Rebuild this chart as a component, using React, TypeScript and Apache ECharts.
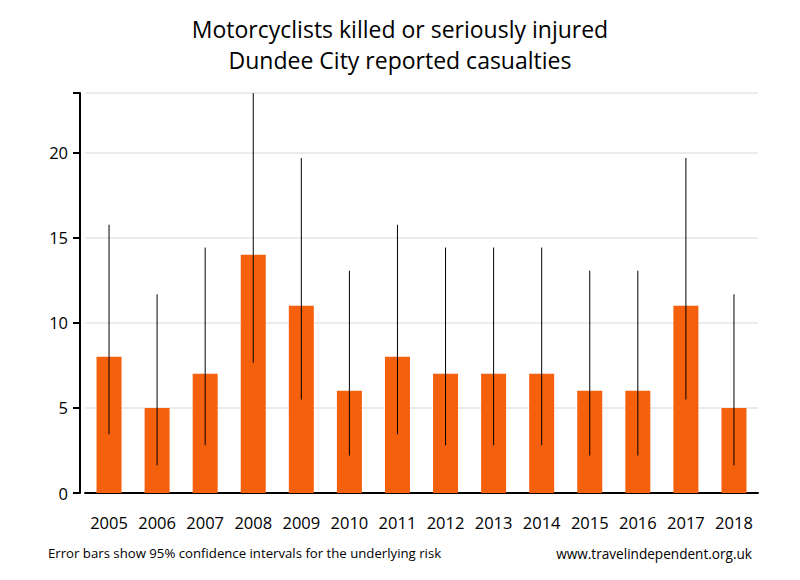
import React, { useEffect, useRef } from "react";
import * as echarts from "echarts";

const years = ["2005", "2006", "2007", "2008", "2009", "2010", "2011", "2012", "2013", "2014", "2015", "2016", "2017", "2018"];
const casualties = [8, 5, 7, 14, 11, 6, 8, 7, 7, 7, 6, 6, 11, 5];
const lowerCI = [3.45, 1.62, 2.81, 7.65, 5.49, 2.2, 3.45, 2.81, 2.81, 2.81, 2.2, 2.2, 5.49, 1.62];
const upperCI = [15.76, 11.67, 14.42, 23.49, 19.68, 13.06, 15.76, 14.42, 14.42, 14.42, 13.06, 13.06, 19.68, 11.67];
const yTicks = [0, 5, 10, 15, 20];

const FONT = "'Open Sans', 'Noto Sans', sans-serif";

export default function App() {
  const ref = useRef<HTMLDivElement>(null);
  useEffect(() => {
    if (!ref.current) return;
    const chart = echarts.init(ref.current, undefined, { renderer: "svg" });
    const errData = years.map((_, i) => [i, lowerCI[i], upperCI[i]]);
    chart.setOption({
      animation: false,
      backgroundColor: "#ffffff",
      title: {
        text: "Motorcyclists killed or seriously injured\nDundee City reported casualties",
        left: "center",
        top: 8,
        textStyle: { fontFamily: FONT, fontSize: 23, fontWeight: "normal", color: "#000", lineHeight: 31 },
      },
      graphic: [
        { type: "text", left: 48, top: 546, style: { text: "Error bars show 95% confidence intervals for the underlying risk", fontFamily: FONT, fontSize: 13.2, fill: "#000" } },
        { type: "text", right: 48, top: 546, style: { text: "www.travelindependent.org.uk", fontFamily: FONT, fontSize: 13.6, fill: "#000" } },
      ],
      grid: { left: 85, right: 42, top: 93, bottom: 87, containLabel: false },
      xAxis: {
        type: "category",
        data: years,
        axisLine: { show: true, lineStyle: { color: "#000", width: 2 } },
        axisTick: { show: false },
        axisLabel: { fontFamily: FONT, fontSize: 16.5, color: "#000", margin: 21, interval: 0, hideOverlap: false },
      },
      yAxis: {
        type: "value",
        min: 0,
        max: 23.5,
        interval: 5,
        offset: 5,
        axisLine: { show: true, lineStyle: { color: "#000", width: 2 } },
        axisTick: { show: true, length: 7, lineStyle: { color: "#000", width: 2 } },
        axisLabel: {
          fontFamily: FONT, fontSize: 16.5, color: "#000", margin: 12,
          formatter: (v: number) => (yTicks.includes(v) ? String(v) : ""),
        },
        splitLine: { show: true, lineStyle: { color: "#e6e6e6", width: 1.5 } },
      },
      series: [
        {
          type: "bar",
          data: casualties,
          barWidth: "52%",
          itemStyle: { color: "#f5600c" },
        },
        {
          type: "custom",
          data: errData,
          z: 10,
          renderItem: (params: any, api: any) => {
            const x = api.value(0);
            const lo = api.coord([x, api.value(1)]);
            const hi = api.coord([x, api.value(2)]);
            return {
              type: "line",
              shape: { x1: lo[0], y1: lo[1], x2: hi[0], y2: hi[1] },
              style: { stroke: "#000", lineWidth: 1 },
            };
          },
        },
      ],
    });
    return () => chart.dispose();
  }, []);
  return <div ref={ref} style={{ width: 800, height: 580, position: "absolute", left: 0, top: 0 }} />;
}
